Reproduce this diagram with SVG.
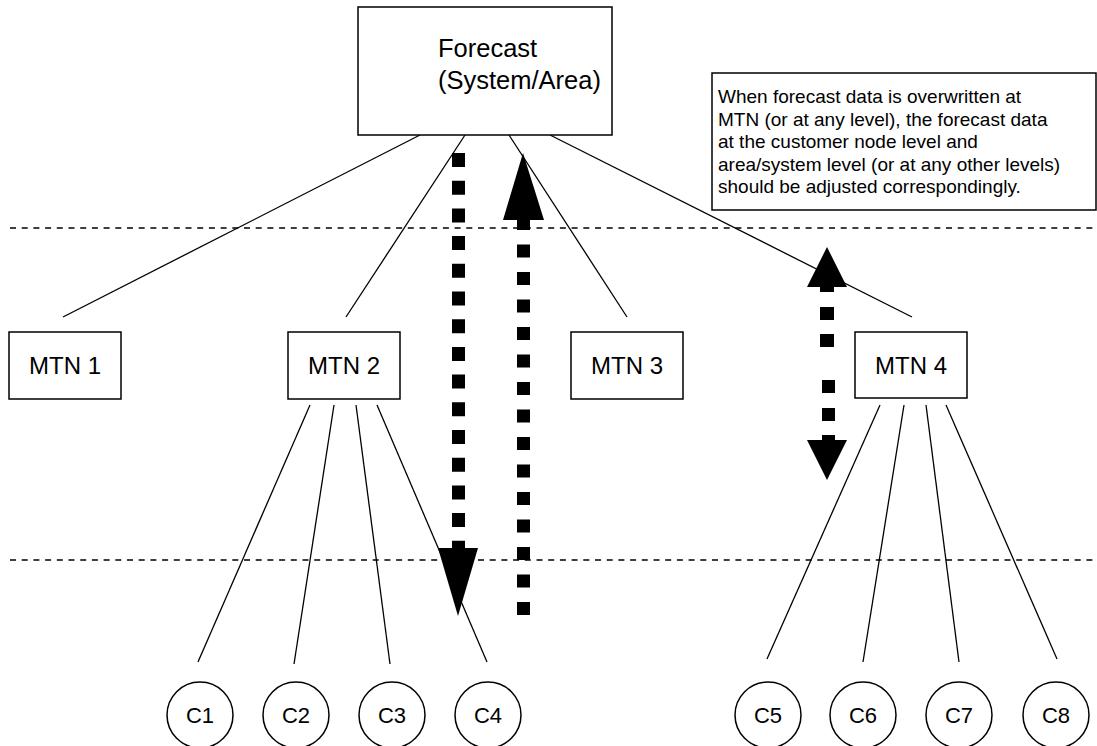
<svg xmlns="http://www.w3.org/2000/svg" width="1097" height="746" viewBox="0 0 1097 746">
<style>
.box{fill:#fff;stroke:#000;stroke-width:1.5}
.ln{stroke:#000;stroke-width:1.3;fill:none}
.hd{stroke:#000;stroke-width:1.3;stroke-dasharray:6 5.7;fill:none}
.t{font-family:"Liberation Sans",Arial,sans-serif;fill:#000}
.thick{stroke:#000;stroke-width:13;fill:none}
.head{fill:#000}
</style>
<rect width="1097" height="746" fill="#fff"/>
<g id="guides">
<line class="hd" x1="10" y1="228" x2="1097" y2="228"/>
<line class="hd" x1="10" y1="560" x2="1097" y2="560"/>
</g>
<g id="connectors">
<line class="ln" x1="420" y1="135" x2="63" y2="317"/>
<line class="ln" x1="465" y1="135" x2="346" y2="317"/>
<line class="ln" x1="509" y1="135" x2="627" y2="317"/>
<line class="ln" x1="550" y1="135" x2="912" y2="317"/>
<line class="ln" x1="310" y1="405" x2="198" y2="662"/>
<line class="ln" x1="334" y1="405" x2="294" y2="664"/>
<line class="ln" x1="356" y1="405" x2="390" y2="664"/>
<line class="ln" x1="377" y1="405" x2="487" y2="662"/>
<line class="ln" x1="880" y1="405" x2="767" y2="659"/>
<line class="ln" x1="904" y1="405" x2="863" y2="662"/>
<line class="ln" x1="926" y1="405" x2="959" y2="662"/>
<line class="ln" x1="946" y1="405" x2="1057" y2="659"/>
</g>
<g id="arrow-down">
<line class="thick" x1="458.5" y1="153" x2="458.5" y2="550" stroke-dasharray="14 13.7"/>
<polygon class="head" points="438,548 478,548 458,616"/>
</g>
<g id="arrow-up">
<line class="thick" x1="523.5" y1="615" x2="523.5" y2="218" stroke-dasharray="13 14.5"/>
<polygon class="head" points="503,220 544,220 523,153"/>
</g>
<g id="arrow-double">
<polygon class="head" points="807,287 847,287 827,247"/>
<rect class="head" x="820" y="286" width="14" height="6"/>
<rect class="head" x="820" y="307" width="14" height="13"/>
<rect class="head" x="820" y="334" width="14" height="13"/>
<rect class="head" x="822" y="380" width="13" height="13"/>
<rect class="head" x="822" y="408" width="13" height="13"/>
<rect class="head" x="822" y="435" width="13" height="6"/>
<polygon class="head" points="807,440 847,440 827,480"/>
</g>
<g id="forecast">
<rect class="box" x="358" y="7" width="254" height="128"/>
<text class="t" x="438" y="57" font-size="25.5">Forecast</text>
<text class="t" x="438" y="89" font-size="25.5">(System/Area)</text>
</g>
<g id="note">
<rect class="box" x="712" y="73" width="384" height="137"/>
<text class="t" font-size="19">
<tspan x="718" y="103">When forecast data is overwritten at</tspan>
<tspan x="718" y="125.5">MTN (or at any level), the forecast data</tspan>
<tspan x="718" y="148">at the customer node level and</tspan>
<tspan x="718" y="170.5">area/system level (or at any other levels)</tspan>
<tspan x="718" y="193">should be adjusted correspondingly.</tspan>
</text>
</g>
<g id="mtn1"><rect class="box" x="9" y="332" width="112" height="67"/><text class="t" x="65" y="374" font-size="24" text-anchor="middle">MTN 1</text></g>
<g id="mtn2"><rect class="box" x="288" y="332" width="112" height="67"/><text class="t" x="344" y="374" font-size="24" text-anchor="middle">MTN 2</text></g>
<g id="mtn3"><rect class="box" x="571" y="332" width="112" height="67"/><text class="t" x="627" y="374" font-size="24" text-anchor="middle">MTN 3</text></g>
<g id="mtn4"><rect class="box" x="855" y="332" width="112" height="66"/><text class="t" x="911" y="374" font-size="24" text-anchor="middle">MTN 4</text></g>
<g id="c1"><circle class="box" cx="200" cy="715" r="33"/><text class="t" x="200" y="723" font-size="22" text-anchor="middle">C1</text></g>
<g id="c2"><circle class="box" cx="296" cy="715" r="33"/><text class="t" x="296" y="723" font-size="22" text-anchor="middle">C2</text></g>
<g id="c3"><circle class="box" cx="392" cy="715" r="33"/><text class="t" x="392" y="723" font-size="22" text-anchor="middle">C3</text></g>
<g id="c4"><circle class="box" cx="488" cy="715" r="33"/><text class="t" x="488" y="723" font-size="22" text-anchor="middle">C4</text></g>
<g id="c5"><circle class="box" cx="768" cy="715" r="33"/><text class="t" x="768" y="723" font-size="22" text-anchor="middle">C5</text></g>
<g id="c6"><circle class="box" cx="863" cy="715" r="33"/><text class="t" x="863" y="723" font-size="22" text-anchor="middle">C6</text></g>
<g id="c7"><circle class="box" cx="959" cy="715" r="33"/><text class="t" x="959" y="723" font-size="22" text-anchor="middle">C7</text></g>
<g id="c8"><circle class="box" cx="1056" cy="715" r="33"/><text class="t" x="1056" y="723" font-size="22" text-anchor="middle">C8</text></g>
</svg>
